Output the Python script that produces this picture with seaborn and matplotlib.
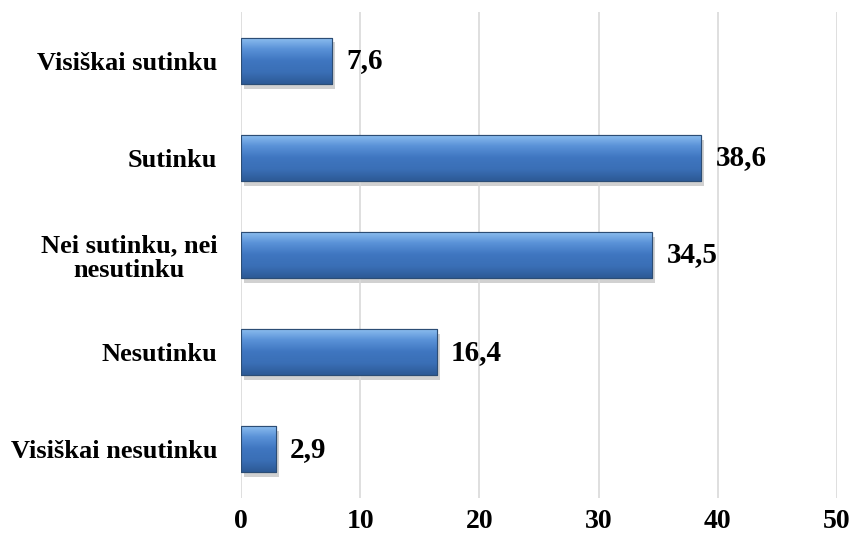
import matplotlib
matplotlib.use('Agg')
import matplotlib.pyplot as plt
import seaborn as sns
import numpy as np
import pandas as pd
from matplotlib.colors import LinearSegmentedColormap

categories = ['Visiškai sutinku', 'Sutinku', 'Nei sutinku, nei\nnesutinku',
              'Nesutinku', 'Visiškai nesutinku']
values = [7.6, 38.6, 34.5, 16.4, 2.9]
x_ticks = [0, 10, 20, 30, 40, 50]

df = pd.DataFrame({'category': categories, 'value': values})

sns.set_theme(style='white')
plt.rcParams['font.family'] = ['Liberation Serif', 'DejaVu Serif']
plt.rcParams['font.weight'] = 'bold'

FS = 19

fig = plt.figure(figsize=(8.55, 5.38), dpi=100)
ax = fig.add_axes([0.282, 0.075, 0.697, 0.902])

sns.barplot(data=df, x='value', y='category', orient='h', color='#4a7ebb',
            width=0.48, edgecolor='#2c4d75', linewidth=0.8, saturation=1, ax=ax)

# bevel-like gradient on each bar
grad_cmap = LinearSegmentedColormap.from_list(
    'bev', ['#8fc0f0', '#5a92d8', '#3f76c0', '#3a6fb6', '#2d5a96'])
grad = np.linspace(0, 1, 100).reshape(-1, 1)
for p in ax.patches:
    x0, y0 = p.get_x(), p.get_y()
    w, h = p.get_width(), p.get_height()
    # shadow
    sh = plt.Rectangle((x0 + 0.25, y0 + 0.05), w, h, facecolor='#000000',
                       alpha=0.18, zorder=p.get_zorder() - 0.5, linewidth=0)
    ax.add_patch(sh)
    im = ax.imshow(grad, extent=[x0, x0 + w, y0 + h, y0], aspect='auto',
                   cmap=grad_cmap, zorder=p.get_zorder() + 0.1)
    im.set_clip_path(p)
    ax.add_patch(plt.Rectangle((x0, y0), w, h, fill=False, edgecolor='#2c4d75',
                               linewidth=0.8, zorder=p.get_zorder() + 0.2))

for i, v in enumerate(values):
    ax.text(v + 1.2, i, f'{v:.1f}'.replace('.', ','), va='center', ha='left',
            fontsize=21, fontweight='bold', color='black')

ax.set_xlim(0, 50)
ax.set_ylim(4.5, -0.5)
ax.set_xticks(x_ticks)
ax.set_xticklabels([str(t) for t in x_ticks], fontsize=20, fontweight='bold',
                   color='black')
ax.tick_params(axis='y', labelsize=FS, length=0, pad=17, labelcolor='black')
ax.tick_params(axis='x', length=0, pad=8)
for lab in ax.get_yticklabels():
    lab.set_fontweight('bold')
    lab.set_multialignment('center')
    lab.set_linespacing(1.1)
ax.set_xlabel('')
ax.set_ylabel('')
ax.grid(axis='x', color='#d9d9d9', linewidth=1.2)
ax.set_axisbelow(True)
for s in ax.spines.values():
    s.set_visible(False)

fig.savefig('out.png', dpi=100)
